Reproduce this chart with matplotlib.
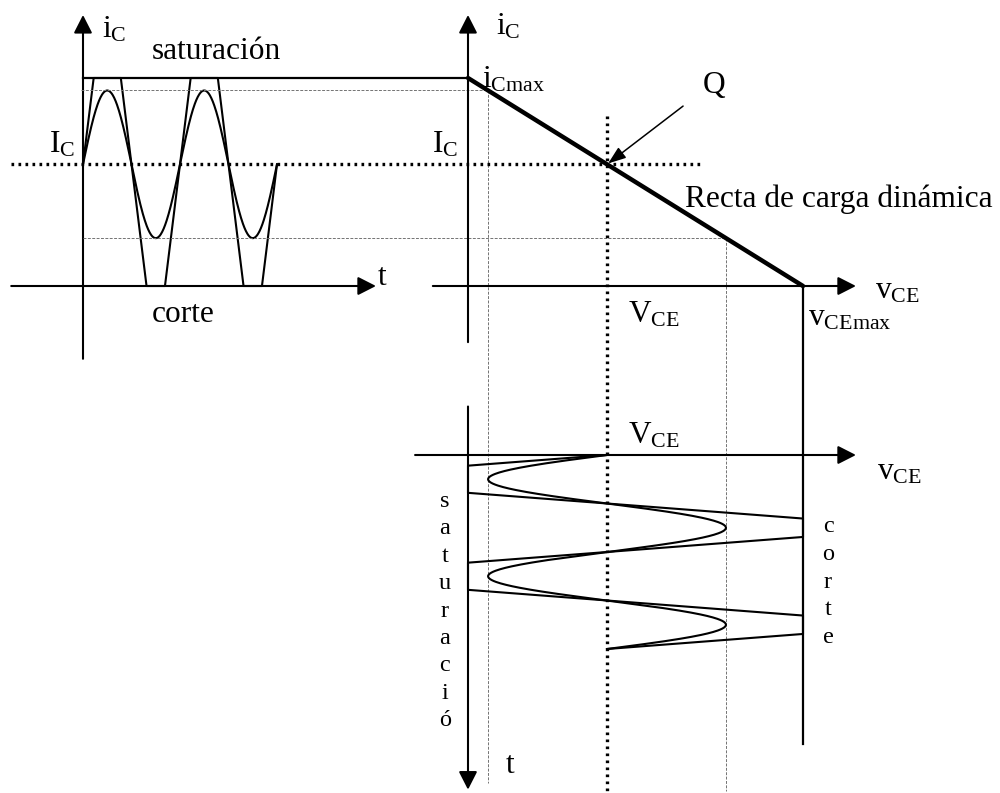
import numpy as np
import matplotlib.pyplot as plt

plt.rcParams['font.family'] = 'Liberation Serif'
plt.rcParams['mathtext.fontset'] = 'custom'
plt.rcParams['mathtext.rm'] = 'Liberation Serif'
plt.rcParams['mathtext.it'] = 'Liberation Serif:italic'

# operating point and input swing, iC normalised to iCmax and vCE to vCEmax
IC_Q = 0.585
IC_AMP = 0.355
VCE_Q = 1 - IC_Q
N_PERIODS = 2

# overdriven output: steep edges clipped at saturation (iC = 1) and cut-off (iC = 0)
clip_t = [0, 0.11, 0.39, 0.655, 0.845, 1.11, 1.39, 1.655, 1.845, 2.0]
clip_ic = [IC_Q, 1, 1, 0, 0, 1, 1, 0, 0, IC_Q]

W, H = 1000, 793
fig = plt.figure(figsize=(W / 100, H / 100), dpi=100)


def overlay(x0, y0, sx, sy, down=False):
    # transparent axes over the whole figure, origin at (x0, y0) px
    ax = fig.add_axes([0, 0, 1, 1])
    ax.set_xlim(-x0 / sx, (W - x0) / sx)
    if down:
        ax.set_ylim((H - y0) / sy, -y0 / sy)
    else:
        ax.set_ylim((y0 - H) / sy, y0 / sy)
    ax.axis('off')
    ax.patch.set_visible(False)
    return ax


def arrow(ax, start, end):
    ax.annotate('', xy=end, xytext=start,
                arrowprops=dict(arrowstyle='-|>,head_length=0.55,head_width=0.28',
                                mutation_scale=20, lw=1.5, color='k',
                                shrinkA=0, shrinkB=0))


def label(ax, xy, text, dx, dy, size=22.6, ha='left'):
    ax.annotate(text, xy, xytext=(dx * 0.72, dy * 0.72), textcoords='offset points',
                fontsize=size, ha=ha, va='baseline')


dotted = dict(color='k', lw=2.4, linestyle=(0, (0.8, 1.3)))
thin = dict(color='0.45', lw=0.7, linestyle=(0, (3, 1.5)))
wave = dict(color='k', lw=1.5)

ic_hi, ic_lo = IC_Q + IC_AMP, IC_Q - IC_AMP
vce_lo, vce_hi = 1 - ic_hi, 1 - ic_lo

t = np.linspace(0, N_PERIODS, 400)
ic_sig = IC_Q + IC_AMP * np.sin(2 * np.pi * t)

# ---- iC(t) on the left
ax_l = overlay(83, 286, 97, 208)
arrow(ax_l, (0, -0.35), (0, 1.303))
arrow(ax_l, (-0.74, 0), (3.02, 0))
ax_l.plot(t, ic_sig, **wave)
ax_l.plot(clip_t, clip_ic, **wave)
label(ax_l, (0, 1.303), r'$\mathrm{i}_\mathrm{C}$', 19, -23)
label(ax_l, (0, 1), 'saturación', 69, 19)
label(ax_l, (0, IC_Q), r'$\mathrm{I}_\mathrm{C}$', -8, 12, ha='right')
label(ax_l, (0, 0), 'corte', 69, -36)
label(ax_l, (3.02, 0), 't', 2, 1)

# ---- iC(vCE) with the dynamic load line
ax_r = overlay(468, 286, 335, 208)
ax_r.plot([-1.155, vce_lo], [ic_hi, ic_hi], **thin)
ax_r.plot([-1.15, vce_hi], [ic_lo, ic_lo], **thin)
ax_r.plot([vce_lo, vce_lo], [ic_hi, -2.39], **thin)
ax_r.plot([vce_hi, vce_hi], [ic_lo, -2.43], **thin)
ax_r.plot([-1.365, 0.695], [IC_Q, IC_Q], **dotted)
arrow(ax_r, (0, -0.27), (0, 1.303))
arrow(ax_r, (-0.105, 0), (1.158, 0))
ax_r.plot([-1.15, 0], [1, 1], color='k', lw=1.6)
ax_r.plot([0, 1], [1, 0], color='k', lw=3.2, solid_capstyle='round')
ax_r.plot([1, 1], [0, -2.2], color='k', lw=1.6)
ax_r.annotate('', xy=(VCE_Q, IC_Q), xytext=(0.642, 0.865),
              arrowprops=dict(arrowstyle='-|>,head_length=0.6,head_width=0.22',
                              mutation_scale=18, lw=1.1, color='k',
                              shrinkA=0, shrinkB=1))
label(ax_r, (0, 1.303), r'$\mathrm{i}_\mathrm{C}$', 28, -20)
label(ax_r, (0, 1), r'$\mathrm{i}_\mathrm{Cmax}$', 14, -9)
label(ax_r, (0, IC_Q), r'$\mathrm{I}_\mathrm{C}$', -10, 12, ha='right')
label(ax_r, (0.642, 0.865), 'Q', 20, 13)
label(ax_r, (VCE_Q, IC_Q), 'Recta de carga dinámica', 78, -43)
label(ax_r, (VCE_Q, 0), r'$\mathrm{V}_\mathrm{CE}$', 21, -37)
label(ax_r, (1, 0), r'$\mathrm{v}_\mathrm{CEmax}$', 5, -40)
label(ax_r, (1.158, 0), r'$\mathrm{v}_\mathrm{CE}$', 19, -13)

# ---- vCE(t) below, time running downwards
ax_b = overlay(468, 455, 335, 97, down=True)
ax_b.plot([VCE_Q, VCE_Q], [-3.5, 3.48], **dotted)
arrow(ax_b, (-0.158, 0), (1.158, 0))
arrow(ax_b, (0, -0.5), (0, 3.45))
ax_b.plot(1 - ic_sig, t, **wave)
ax_b.plot(1 - np.array(clip_ic), clip_t, **wave)
label(ax_b, (VCE_Q, 0), r'$\mathrm{V}_\mathrm{CE}$', 21, 12)
label(ax_b, (1.158, 0), r'$\mathrm{v}_\mathrm{CE}$', 21, -25)
label(ax_b, (0, 3.45), 't', 38, 17)
for i, ch in enumerate('saturació'):
    label(ax_b, (0, 0), ch, -23, -(52 + 27.4 * i), size=17.5, ha='center')
for i, ch in enumerate('corte'):
    label(ax_b, (1, 0), ch, 25, -(77 + 27.75 * i), size=17.5, ha='center')

fig.savefig('out.png', dpi=100)
